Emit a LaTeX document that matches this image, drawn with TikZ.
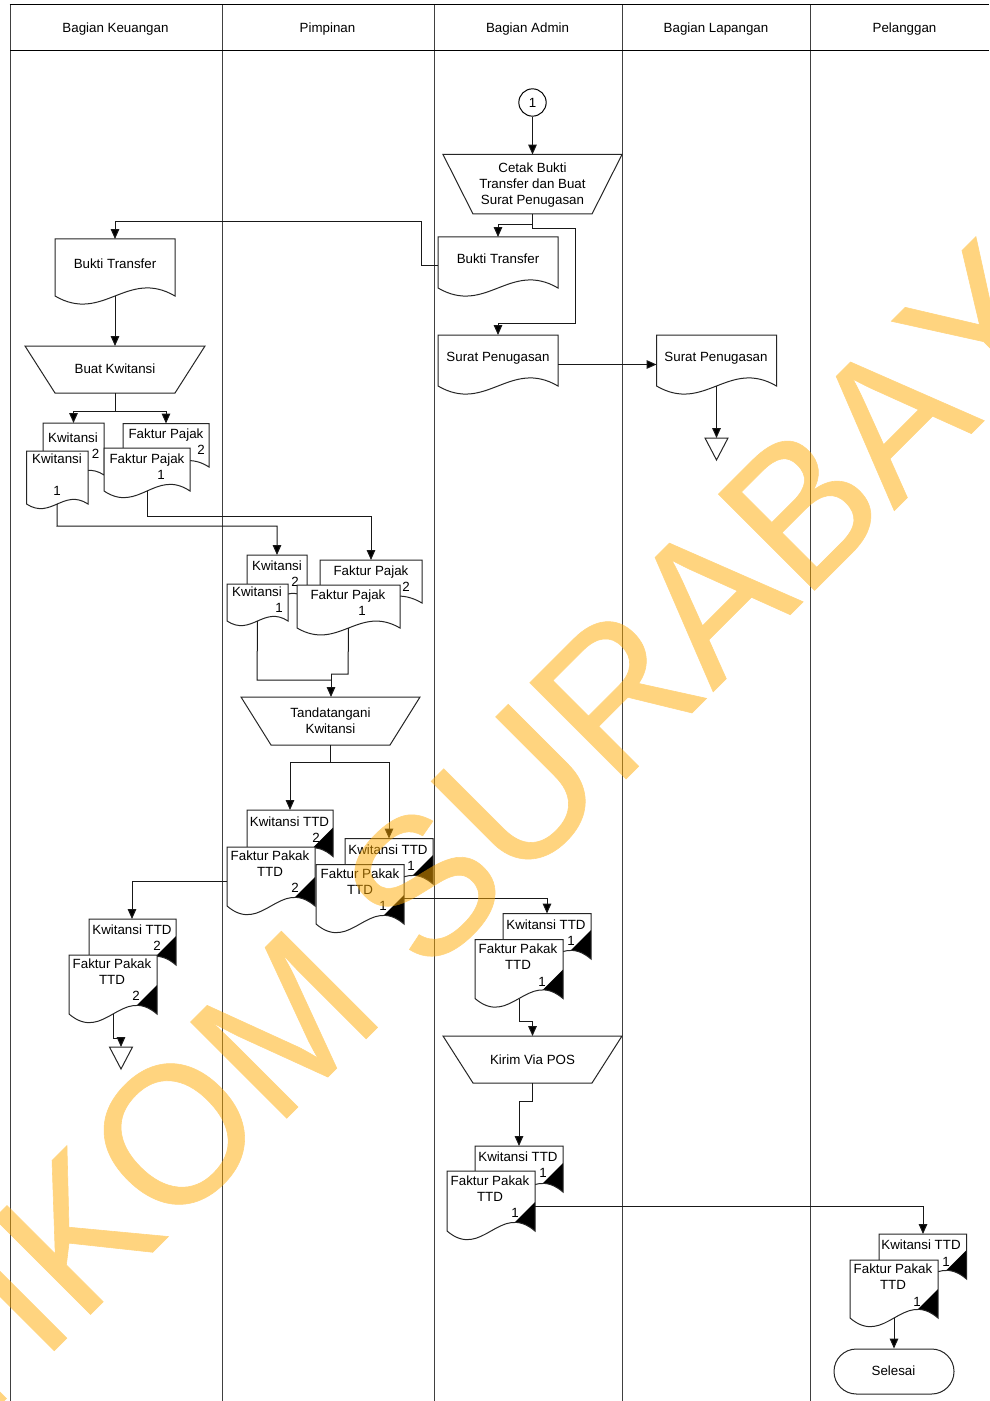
\documentclass[tikz,border=0pt]{standalone}
\usepackage{fontspec}
\setmainfont{Liberation Sans}
\newfontfamily\wmfont[FakeBold=0.3,Kerning=Off]{Liberation Sans}
\usetikzlibrary{arrows.meta,fit,shapes.geometric}
\definecolor{wm}{HTML}{FFAA00}
\tikzset{
  x=0.75pt,y=-0.75pt,
  every node/.style={font=\fontsize{10}{12}\selectfont,inner sep=0pt,align=center},
  lane/.style={draw=black!75,line width=0.75pt},
  headline/.style={draw=black,line width=0.85pt},
  docline/.style={draw=black!85,line width=0.75pt,fill=white},
  box/.style={draw=black!85,line width=0.75pt,fill=white},
  conn/.style={draw=black!90,line width=0.75pt},
  arr/.style={conn,-{Triangle[length=7.4pt,width=6.4pt,fill=black]}},
  anchorbox/.style={inner sep=0pt,outer sep=0pt}
}
\newcounter{lblc}
\newcommand\lbl[3]{\stepcounter{lblc}\node (t\thelblc) at (#1,#2+1.2) {#3};}
\newcommand\docpath[5]{(#1,#2) -- (#1,#4) .. controls ({#1+.4*(#3-#1)},#4+#5) and ({#1+.6*(#3-#1)},#4-#5) .. (#3,#4) -- (#3,#2) -- cycle}
\newcommand\docu[6]{%
  \path[docline] \docpath{#2}{#3}{#4}{#5}{#6};
  \node[anchorbox,fit={(#2,#3)(#4,#5)}] (#1) {};}
\newcommand\docb[6]{%
  \fill[white] \docpath{#2}{#3}{#4}{#5}{#6};
  \begin{scope}
    \clip \docpath{#2}{#3}{#4}{#5}{#6};
    \fill[black] (#4,#5-29) -- (#4,#5+20) -- (#4-49,#5+20) -- cycle;
  \end{scope}
  \draw[docline,fill=none] \docpath{#2}{#3}{#4}{#5}{#6};
  \node[anchorbox,fit={(#2,#3)(#4,#5)}] (#1) {};}
\newcommand\trap[6]{%
  \path[box] (#2,#3) -- (#4,#3) -- (#4-30,#5) -- (#2+30,#5) -- cycle;
  \node[anchorbox,fit={(#2,#3)(#4,#5)}] (#1) {};}
\newcommand\mergetri[3]{%
  \path[box] (#2-11.5,#3) -- (#2+11.5,#3) -- (#2,#3+22) -- cycle;
  \node[anchorbox,fit={(#2-11.5,#3)(#2+11.5,#3+22)}] (#1) {};}
\begin{document}
\begin{tikzpicture}
\useasboundingbox (0,0) rectangle (989,1401);
\clip (0,0) rectangle (989,1401);
\fill[white] (0,0) rectangle (989,1401);

% swimlanes
\draw[lane] (10,1401) -- (10,4.5);
\draw[lane] (222,5) -- (222,1401);
\draw[lane] (434,5) -- (434,1401);
\draw[lane] (622,5) -- (622,1401);
\draw[lane] (810,5) -- (810,1401);
\draw[headline,line width=1.05pt] (9.5,4.7) -- (989,4.7);
\draw[headline] (10,50.7) -- (989,50.7);
\lbl{115.5}{27.5}{Bagian Keuangan}
\lbl{327.5}{27.5}{Pimpinan}
\lbl{527.5}{27.5}{Bagian Admin}
\lbl{716}{27.5}{Bagian Lapangan}
\lbl{904.5}{27.5}{Pelanggan}

% Bagian Admin top
\node[draw=black,line width=0.75pt,fill=white,circle,minimum size=20.5pt] (start) at (532.5,102.5) {};
\lbl{532.5}{102}{1}
\trap{tCetak}{443}{154.5}{622}{214}{}
\lbl{532.5}{184}{Cetak Bukti\\Transfer dan Buat\\Surat Penugasan}
\docu{dBT}{438}{237}{558}{288}{28}
\lbl{498}{258}{Bukti Transfer}
\docu{dSP}{438}{335}{558}{386}{28}
\lbl{498}{357}{Surat Penugasan}
\docu{dSPb}{656.5}{335}{776.5}{386}{28}
\lbl{716}{357}{Surat Penugasan}
\mergetri{mA}{716.5}{438}

% Bagian Keuangan
\docu{dBTk}{55}{239}{175}{296}{28}
\lbl{115}{263}{Bukti Transfer}
\trap{tKw}{25}{346}{205}{393}{}
\lbl{115}{368}{Buat Kwitansi}
\docu{kK2}{43}{423}{104}{475}{16}
\lbl{73}{437}{Kwitansi}
\lbl{95.5}{453}{2}
\docu{kK1}{26.5}{451}{88}{504}{16}
\lbl{57}{458}{Kwitansi}
\lbl{57}{490}{1}
\docu{kF2}{123}{423.5}{209}{467}{22}
\lbl{166}{434}{Faktur Pajak}
\lbl{201}{449}{2}
\docu{kF1}{104}{448}{190}{491}{23}
\lbl{147}{459}{Faktur Pajak}
\lbl{161}{474}{1}

% Pimpinan copies
\docu{pK2}{247}{555}{307}{598}{16}
\lbl{277}{565}{Kwitansi}
\lbl{295}{581}{2}
\docu{pF2}{320}{560}{422}{603}{24}
\lbl{371}{571}{Faktur Pajak}
\lbl{406}{586}{2}
\docu{pK1}{227}{584}{288}{621}{16}
\lbl{257}{591}{Kwitansi}
\lbl{279}{607}{1}
\docu{pF1}{297}{585}{400}{628}{24}
\lbl{348}{595}{Faktur Pajak}
\lbl{362}{610}{1}
\trap{tTd}{241}{697}{420}{745}{}
\lbl{330.5}{720}{Tandatangani\\Kwitansi}

\docb{pT2}{247}{810}{333}{856.5}{30}
\lbl{289.5}{821}{Kwitansi TTD}
\lbl{316}{837}{2}
\docb{pS2}{227}{847}{315}{906}{30}
\lbl{270}{862}{Faktur Pakak\\TTD}
\lbl{295}{887}{2}
\docb{pT1}{345}{838.5}{433}{884}{30}
\lbl{388}{849}{Kwitansi TTD}
\lbl{411}{865}{1}
\docb{pS1}{316}{864.5}{404}{924}{30}
\lbl{360}{880}{Faktur Pakak\\TTD}
\lbl{383}{905}{1}

% arsip keuangan
\docb{aT}{89}{919}{176}{965}{30}
\lbl{132}{929}{Kwitansi TTD}
\lbl{157}{945}{2}
\docb{aS}{69}{955}{157}{1014}{30}
\lbl{112}{970}{Faktur Pakak\\TTD}
\lbl{136}{995}{2}
\mergetri{mB}{121}{1047}

% admin
\docb{bT}{503}{913.5}{591}{959}{30}
\lbl{546}{924}{Kwitansi TTD}
\lbl{571}{940}{1}
\docb{bS}{475}{939.5}{563}{998.5}{30}
\lbl{518}{955}{Faktur Pakak\\TTD}
\lbl{542}{981}{1}
\trap{tPos}{443}{1036}{622}{1083}{}
\lbl{532.5}{1059}{Kirim Via POS}
\docb{cT}{475}{1146}{563}{1192}{30}
\lbl{518}{1156}{Kwitansi TTD}
\lbl{543}{1172}{1}
\docb{cS}{447}{1171}{535}{1231}{30}
\lbl{490}{1187}{Faktur Pakak\\TTD}
\lbl{515}{1212}{1}

% pelanggan
\docb{eT}{879}{1234}{966.5}{1279}{30}
\lbl{921}{1244}{Kwitansi TTD}
\lbl{946}{1261}{1}
\docb{eS}{850}{1260}{938}{1318}{30}
\lbl{893}{1275}{Faktur Pakak\\TTD}
\lbl{917}{1301}{1}
\node[draw=black!85,line width=0.75pt,fill=white,rounded corners=16.8pt,minimum width=90pt,minimum height=33.75pt] (end) at (894,1371.5) {};
\lbl{893.5}{1370}{Selesai}

% connectors
\draw[arr] (start) -- (tCetak.north -| start);
\draw[arr] (532.5,214) -- (532.5,225) -| (dBT.north);
\draw[arr] (532.5,214) -- (532.5,229) -- (575.5,229) -- (575.5,323) -| (dSP.north);
\draw[conn] (dBT.west |- 0,266) -- (421,266) -- (421,222) -- (115,222);
\draw[arr] (115,222) -- (dBTk.north);
\draw[arr] (dBTk.south) -- (tKw.north);
\draw[arr] (dSP.east |- 0,364.5) -- (dSPb.west |- 0,364.5);
\draw[arr] (dSPb.south) -- (mA.north);
\draw[arr] (tKw.south) -- (115,411) -| (kK2.north);
\draw[arr] (tKw.south) -- (115,411) -| (kF2.north);
\draw[arr] (kK1.south) -- (57,526) -| (pK2.north);
\draw[arr] (kF1.south) -- (147,516) -| (pF2.north);
\draw[conn] (pK1.south) -- (257,680) -- (331,680);
\draw[conn] (pF1.south) -- (348,674) -- (331,674);
\draw[arr] (331,674) -- (tTd.north -| 331,0);
\draw[arr] (330.5,745) -- (330.5,762) -| (pT2.north);
\draw[arr] (330.5,745) -- (330.5,762) -| (pT1.north);
\draw[arr] (pS2.west |- 0,881) -| (aT.north -| 132,0);
\draw[arr] (pS1.east |- 0,898.5) -| (bT.north -| 547,0);
\draw[arr] (aS.south) -- (113,1038) -| (mB.north);
\draw[arr] (bS.south) -- (519,1021) -| (tPos.north -| 532.5,0);
\draw[arr] (532.5,1083) -- (532.5,1101) -| (cT.north -| 519,0);
\draw[arr] (cS.east |- 0,1206) -| (eT.north -| 923,0);
\draw[arr] (eS.south) -- (end.north -| eS.south);

% watermark
\begin{scope}[transparency group,opacity=0.5]
\node[anchor=base west,rotate=45,yscale=1.03,transform shape,font=\wmfont\fontsize{144}{144}\selectfont,text=wm] (wm) at (-132,1537) {STIKOM SURABAYA};
\end{scope}
\end{tikzpicture}
\end{document}
